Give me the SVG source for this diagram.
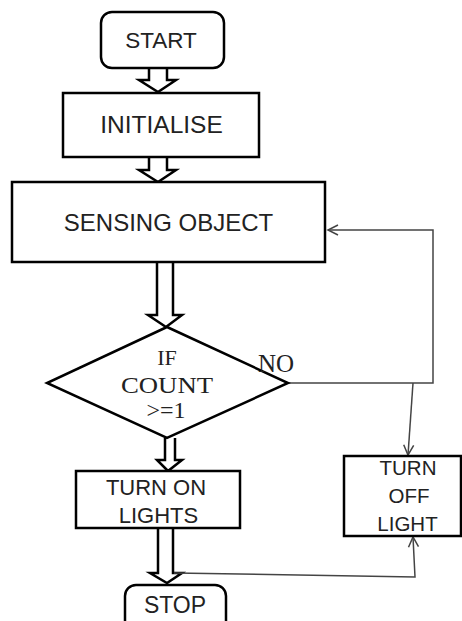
<svg xmlns="http://www.w3.org/2000/svg" width="462" height="621" viewBox="0 0 462 621">
<defs>
<style>
.box{fill:#fff;stroke:#000;stroke-width:2.5}
.blk{fill:#fff;stroke:#000;stroke-width:2.5;stroke-linejoin:miter}
.t{font-family:"Liberation Sans",Arial,sans-serif;fill:#222;text-anchor:middle}
.s{font-family:"Liberation Serif","Times New Roman",serif;fill:#222;text-anchor:middle}
.ln{fill:none;stroke:#444;stroke-width:1.5}
</style>
<marker id="ah" markerUnits="userSpaceOnUse" markerWidth="14" markerHeight="14" refX="11" refY="6" orient="auto">
<path d="M1,1 L11,6 L1,11" fill="none" stroke="#444" stroke-width="1.5"/>
</marker>
</defs>
<rect width="462" height="621" fill="#fff"/>
<g id="connectors">
<path class="blk" d="M149,68 V80 H139 L158,92 L176,80 H167 V68"/>
<path class="blk" d="M149,157 V170 H139 L158,182 L176,170 H167 V157"/>
<path class="blk" d="M157,262 V315 H148 L166,327 L182,315 H173 V262"/>
<path class="blk" d="M165,438 V460 H157 L168,471 L182,460 H175 V438"/>
<path class="blk" d="M158,528 V573 H150 L167,583 L182,573 H173 V528"/>
<path class="ln" d="M288,383 H433 V230 H328" marker-end="url(#ah)"/>
<path class="ln" d="M413,383 L408,455" marker-end="url(#ah)"/>
<path class="ln" d="M174,573 L415,577 L413,537" marker-end="url(#ah)"/>
</g>
<g id="start">
<rect class="box" x="101" y="12" width="123" height="56" rx="11"/>
<text class="t" x="161" y="48" font-size="22.5">START</text>
</g>
<g id="initialise">
<rect class="box" x="63" y="93" width="196" height="64"/>
<text class="t" x="161.5" y="133" font-size="24.5">INITIALISE</text>
</g>
<g id="sensing">
<rect class="box" x="12" y="182" width="313" height="80"/>
<text class="t" x="168.5" y="231" font-size="24">SENSING OBJECT</text>
</g>
<g id="decision">
<polygon class="box" points="167,327 288,383 167,438 47,383"/>
<text class="s" x="167" y="365" font-size="22">IF</text>
<text class="s" x="167" y="393" font-size="24" textLength="92" lengthAdjust="spacingAndGlyphs">COUNT</text>
<text class="s" x="166" y="418" font-size="24">&gt;=1</text>
</g>
<text id="no-label" class="s" x="258" y="372" font-size="25" text-anchor="start" style="text-anchor:start">NO</text>
<g id="turn-on">
<rect class="box" x="76" y="471" width="164" height="57"/>
<text class="t" x="156" y="495" font-size="22">TURN ON</text>
<text class="t" x="158.5" y="523" font-size="22">LIGHTS</text>
</g>
<g id="turn-off">
<rect class="box" x="344" y="456" width="117" height="80"/>
<text class="t" x="408" y="475" font-size="20.5">TURN</text>
<text class="t" x="409" y="503" font-size="20.5">OFF</text>
<text class="t" x="407.5" y="531" font-size="20.5">LIGHT</text>
</g>
<g id="stop">
<rect class="box" x="125" y="585" width="101" height="60" rx="11"/>
<text class="t" x="175" y="613" font-size="23">STOP</text>
</g>
</svg>
